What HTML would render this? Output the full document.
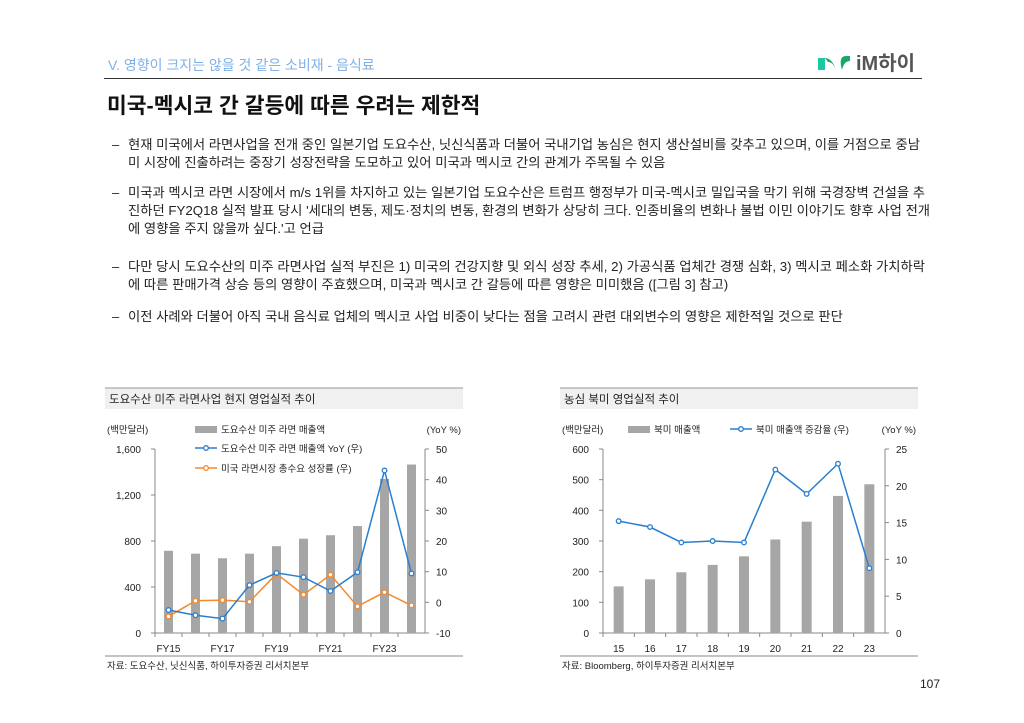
<!DOCTYPE html>
<html><head><meta charset="utf-8">
<style>
body{margin:0;background:#fff;}
#page{position:relative;width:1024px;height:723px;overflow:hidden;background:#fff;font-family:"Liberation Sans","Noto Sans CJK KR",sans-serif;color:#222;}
.ln{position:absolute;left:128px;font-size:13.3px;white-space:nowrap;line-height:18px;color:#222;}
.dash{position:absolute;left:112px;font-size:13px;line-height:18px;}
svg text{font-family:"Liberation Sans","Noto Sans CJK KR",sans-serif;}
</style></head><body>
<div id="page">
<div style="position:absolute;left:108px;top:55px;font-size:14px;color:#7fb0e8;">V. 영향이 크지는 않을 것 같은 소비재 - 음식료</div>
<div style="position:absolute;left:816px;top:50px;width:110px;height:24px;">
<svg width="110" height="24"><path d="M2 8 L9 8 L9 20 L2 20 Z" fill="#1fc7a0"/><path d="M9 8 Q16 8 20 20 L26 20 Q22 6 30 6 L34 6 L34 11 Q28 11 26 20 L20 20 Q17 12 12 12 Z" fill="#1aa86a"/><text x="40" y="20" font-size="20" font-weight="bold" fill="#555">iM하이</text></svg></div>
<div style="position:absolute;left:104px;top:78px;width:818px;height:1px;background:#333;"></div>
<div style="position:absolute;left:107px;top:89px;font-size:21.5px;font-weight:bold;color:#111;">미국-멕시코 간 갈등에 따른 우려는 제한적</div>

<div class="dash" style="top:136px">–</div>
<div class="ln" style="top:136px">현재 미국에서 라면사업을 전개 중인 일본기업 도요수산, 닛신식품과 더불어 국내기업 농심은 현지 생산설비를 갖추고 있으며, 이를 거점으로 중남</div>
<div class="ln" style="top:154px">미 시장에 진출하려는 중장기 성장전략을 도모하고 있어 미국과 멕시코 간의 관계가 주목될 수 있음</div>
<div class="dash" style="top:184px">–</div>
<div class="ln" style="top:184px">미국과 멕시코 라면 시장에서 m/s 1위를 차지하고 있는 일본기업 도요수산은 트럼프 행정부가 미국-멕시코 밀입국을 막기 위해 국경장벽 건설을 추</div>
<div class="ln" style="top:202px">진하던 FY2Q18 실적 발표 당시 '세대의 변동, 제도·정치의 변동, 환경의 변화가 상당히 크다. 인종비율의 변화나 불법 이민 이야기도 향후 사업 전개</div>
<div class="ln" style="top:220px">에 영향을 주지 않을까 싶다.'고 언급</div>
<div class="dash" style="top:258px">–</div>
<div class="ln" style="top:258px">다만 당시 도요수산의 미주 라면사업 실적 부진은 1) 미국의 건강지향 및 외식 성장 추세, 2) 가공식품 업체간 경쟁 심화, 3) 멕시코 페소화 가치하락</div>
<div class="ln" style="top:276px">에 따른 판매가격 상승 등의 영향이 주효했으며, 미국과 멕시코 간 갈등에 따른 영향은 미미했음 ([그림 3] 참고)</div>
<div class="dash" style="top:308px">–</div>
<div class="ln" style="top:308px">이전 사례와 더불어 아직 국내 음식료 업체의 멕시코 사업 비중이 낮다는 점을 고려시 관련 대외변수의 영향은 제한적일 것으로 판단</div>

<svg id="c" width="1024" height="723" style="position:absolute;left:0;top:0"></svg>
<div style="position:absolute;left:920px;top:677px;font-size:12px;">107</div>
</div>
<script>
// Chart 1 data
const c1Cats=["FY15","FY16","FY17","FY18","FY19","FY20","FY21","FY22","FY23","FY24"];
const c1XLabels=["FY15","","FY17","","FY19","","FY21","","FY23",""];
const c1Sales=[715,690,650,690,755,820,850,930,1340,1465];
const c1Yoy=[-2.5,-4.2,-5.3,5.6,9.6,8.2,3.7,9.8,43,9.4];
const c1Market=[-4.6,0.5,0.7,0.2,9.3,2.5,9.0,-1.3,3.3,-1.0];
const c1LeftTicks=[0,400,800,1200,1600];
const c1RightTicks=[-10,0,10,20,30,40,50];
// Chart 2 data
const c2Cats=["15","16","17","18","19","20","21","22","23"];
const c2Sales=[152,175,198,222,250,305,363,447,485];
const c2Yoy=[15.2,14.4,12.3,12.5,12.3,22.2,18.9,23.0,8.8];
const c2LeftTicks=[0,100,200,300,400,500,600];
const c2RightTicks=[0,5,10,15,20,25];

const svg=document.getElementById('c');
const NS='http://www.w3.org/2000/svg';
function mk(tag,attrs,parent){const e=document.createElementNS(NS,tag);for(const k in attrs)e.setAttribute(k,attrs[k]);(parent||svg).appendChild(e);return e;}
function txt(x,y,s,size,anchor,fill){const t=mk('text',{x:x,y:y,'font-size':size,'text-anchor':anchor||'start',fill:fill||'#222'});t.textContent=s;return t;}

function drawChart(o){
  const g=mk('g',{});
  
  
  const tb=mk('rect',{x:o.bx,y:388,width:o.bw,height:21,fill:'#f0f0f0'},g);
  
  
  mk('line',{x1:o.bx,x2:o.bx+o.bw,y1:388,y2:388,stroke:'#999','stroke-width':1},g);
  const tt=txt(o.bx+4,403,o.title,11.5,'start','#222');g.appendChild(tt);
  
  
  const x0=o.x0,x1=o.x1,yT=449,yB=633;
  const n=o.cats.length,step=(x1-x0)/n;
  const xc=i=>x0+step*(i+0.5);
  const yL=v=>yB-(v-o.lmin)/(o.lmax-o.lmin)*(yB-yT);
  const yR=v=>yB-(v-o.rmin)/(o.rmax-o.rmin)*(yB-yT);
  mk('line',{x1:x0,x2:x0,y1:yT,y2:yB,stroke:'#888'},g);
  mk('line',{x1:x1,x2:x1,y1:yT,y2:yB,stroke:'#888'},g);
  mk('line',{x1:x0,x2:x1,y1:yB,y2:yB,stroke:'#888'},g);
  o.lt.forEach(v=>{mk('line',{x1:x0-4,x2:x0,y1:yL(v),y2:yL(v),stroke:'#888'},g);const t=txt(x0-14,yL(v)+4,v.toLocaleString('en-US'),10,'end');g.appendChild(t);});
  o.rt.forEach(v=>{mk('line',{x1:x1,x2:x1+4,y1:yR(v),y2:yR(v),stroke:'#888'},g);const t=txt(x1+11,yR(v)+4,String(v),10,'start');g.appendChild(t);});
  o.cats.forEach((c,i)=>{mk('line',{x1:x0+step*i,x2:x0+step*i,y1:yB,y2:yB+4,stroke:'#888'},g);});
  o.xl.forEach((c,i)=>{if(!c)return;const t=txt(xc(i),652,c,10,'middle');g.appendChild(t);});
  o.sales.forEach((v,i)=>{const r=mk('rect',{x:xc(i)-o.bwid/2,y:yL(v),width:o.bwid,height:yB-yL(v),fill:'#a6a6a6'},g);});
  o.lines.forEach(L=>{
    const pl=mk('polyline',{points:L.vals.map((v,i)=>xc(i)+','+yR(v)).join(' '),fill:'none',stroke:L.color,'stroke-width':1.5},g);
    
    
    L.vals.forEach((v,i)=>{const c=mk('circle',{cx:xc(i),cy:yR(v),r:2.3,fill:'#fff',stroke:L.color,'stroke-width':1.3},g);});
  });
  g.appendChild(txt(o.bx+2,433,'(백만달러)',9.5,'start'));
  g.appendChild(txt(o.bx+o.bw-2,433,'(YoY %)',9.5,'end'));
  o.legend.forEach(l=>{
    const lg=mk('g',{},g);
    
    
    if(l.type==='bar')mk('rect',{x:l.x,y:l.y-7,width:22,height:7,fill:'#a6a6a6'},lg);
    else{mk('line',{x1:l.x,x2:l.x+22,y1:l.y-4,y2:l.y-4,stroke:l.color,'stroke-width':1.5},lg);mk('circle',{cx:l.x+11,cy:l.y-4,r:2.3,fill:'#fff',stroke:l.color,'stroke-width':1.3},lg);}
    lg.appendChild(txt(l.x+26,l.y,l.label,9.5,'start'));
  });
  mk('line',{x1:o.bx,x2:o.bx+o.bw,y1:656,y2:656,stroke:'#888'},g);
  const s=txt(o.bx+2,669,o.src,9.5,'start');g.appendChild(s);
  
  
}
drawChart({name:'toyo-chart',bx:105,bw:358,title:'도요수산 미주 라면사업 현지 영업실적 추이',x0:155,x1:425,cats:c1Cats,xl:c1XLabels,sales:c1Sales,lmin:0,lmax:1600,rmin:-10,rmax:50,lt:c1LeftTicks,rt:c1RightTicks,bwid:9,
 lines:[{name:'market-growth',vals:c1Market,color:'#f28a2e'},{name:'toyo-yoy',vals:c1Yoy,color:'#2a7ed0'}],
 legend:[{type:'bar',x:195,y:433,label:'도요수산 미주 라면 매출액'},{type:'line',x:195,y:452,color:'#2a7ed0',label:'도요수산 미주 라면 매출액 YoY (우)'},{type:'line',x:195,y:472,color:'#f28a2e',label:'미국 라면시장 총수요 성장률 (우)'}],
 src:'자료: 도요수산, 닛신식품, 하이투자증권 리서치본부'});
drawChart({name:'nongshim-chart',bx:560,bw:358,title:'농심 북미 영업실적 추이',x0:603,x1:885,cats:c2Cats,xl:c2Cats,sales:c2Sales,lmin:0,lmax:600,rmin:0,rmax:25,lt:c2LeftTicks,rt:c2RightTicks,bwid:10,
 lines:[{name:'nongshim-yoy',vals:c2Yoy,color:'#2a7ed0'}],
 legend:[{type:'bar',x:628,y:433,label:'북미 매출액'},{type:'line',x:730,y:433,color:'#2a7ed0',label:'북미 매출액 증감율 (우)'}],
 src:'자료: Bloomberg, 하이투자증권 리서치본부'});
</script>
</body></html>
